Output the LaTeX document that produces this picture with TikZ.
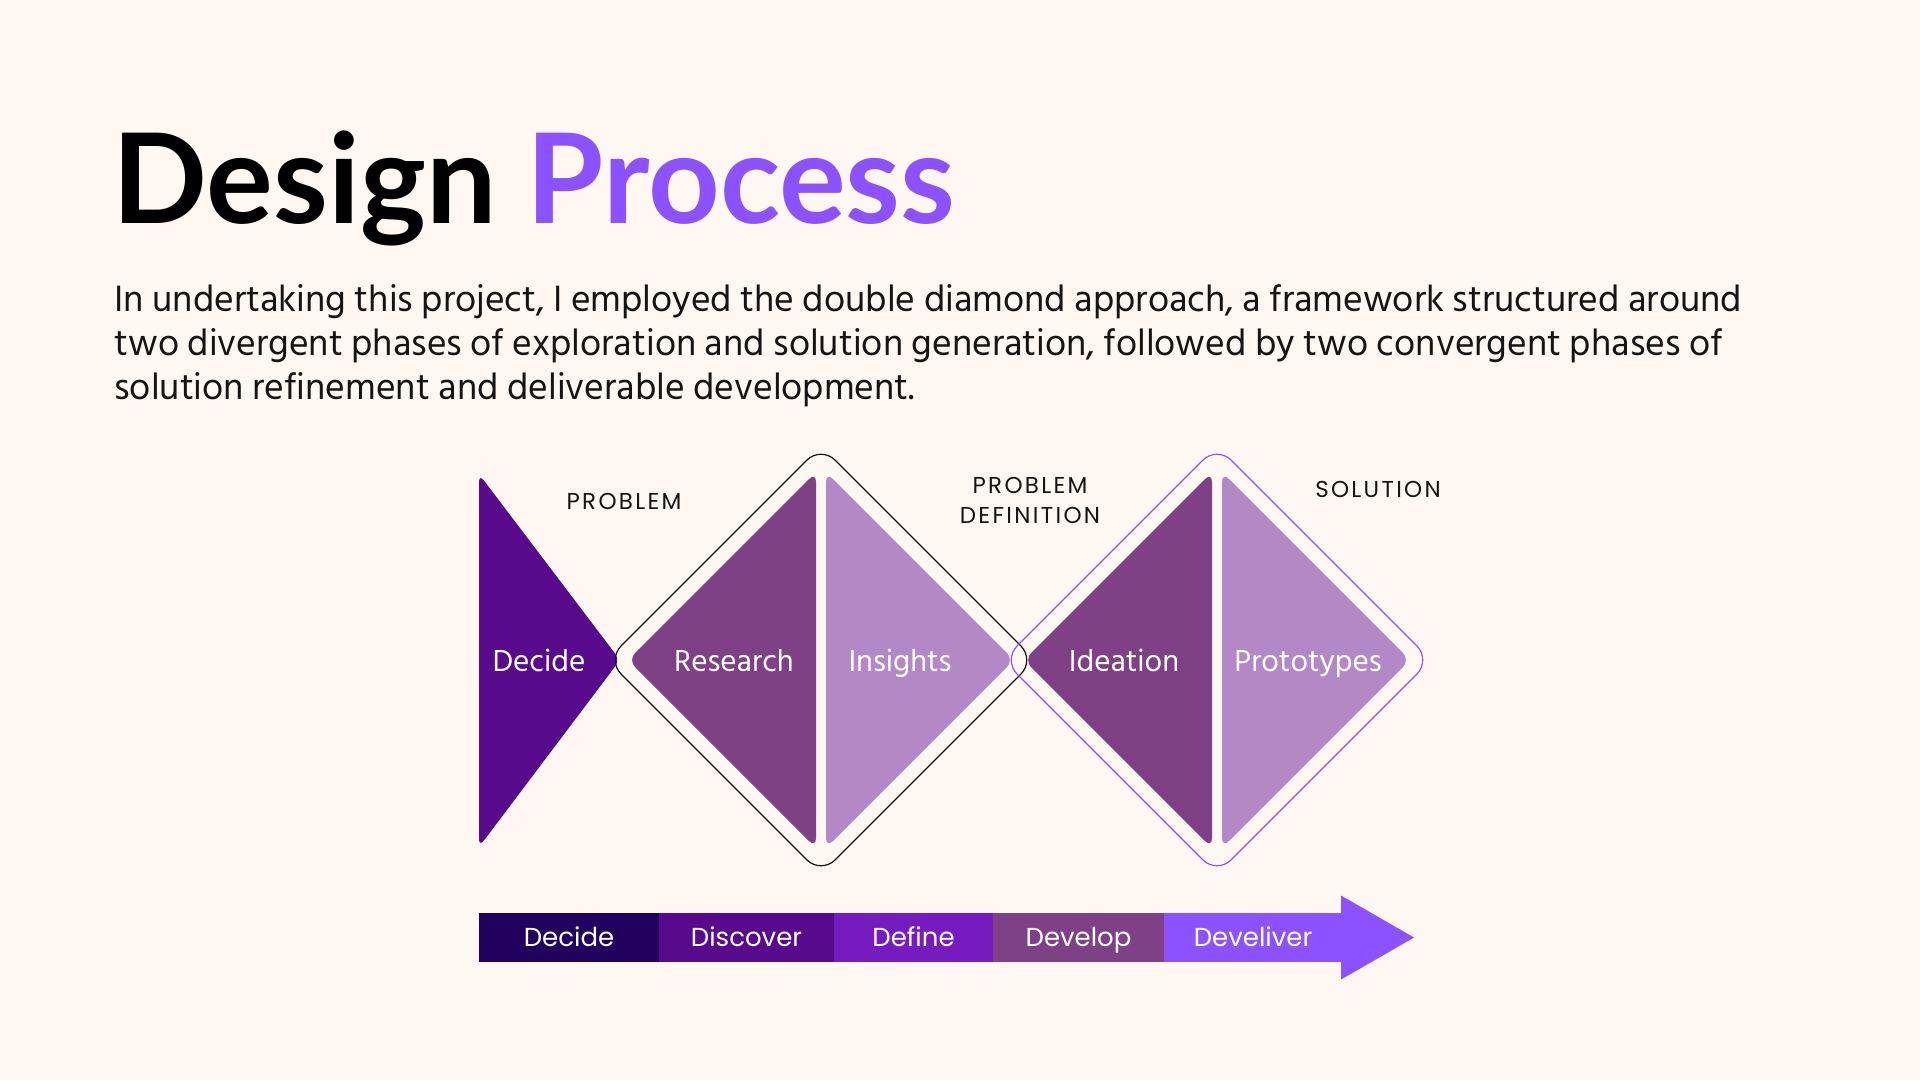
\documentclass[tikz,border=0pt]{standalone}
\usepackage{fontspec}
\setmainfont{Lato}
\newfontfamily\hindfont{Hind Siliguri}
\newfontfamily\popfont{Poppins}
\newfontfamily\popwide{Poppins}[LetterSpace=10]
\usetikzlibrary{positioning}
\definecolor{paper}{HTML}{FFF7F2}
\definecolor{inkblack}{HTML}{141414}
\definecolor{accent}{HTML}{8C52FF}
\definecolor{grape}{HTML}{580A8D}
\definecolor{plum}{HTML}{7E4186}
\definecolor{lilac}{HTML}{B288C6}
\definecolor{nightblue}{HTML}{22005E}
\definecolor{orchid}{HTML}{761BBF}

\begin{document}
\begin{tikzpicture}[x=0.5bp,y=-0.5bp,
  half/.style={rounded corners=5bp},
  outline/.style={rounded corners=10bp,line width=0.6bp},
  phase/.style={anchor=base,inner sep=0pt,text=white,
    font=\hindfont\fontsize{15.6bp}{18bp}\selectfont},
  stage/.style={anchor=base,inner sep=0pt,text=inkblack,
    font=\popwide\fontsize{11.5bp}{15bp}\selectfont},
  bodyline/.style={anchor=base west,inner sep=0pt,text=inkblack,
    font=\hindfont\fontsize{18.8bp}{22bp}\selectfont},
  bar/.style={minimum height=24.5bp,inner sep=0pt,outer sep=0pt,
    text height=11.5bp,text depth=2.5bp,
    text=white,font=\popfont\fontsize{13bp}{16bp}\selectfont}
]
  \fill[paper] (0,0) rectangle (1920,1080);

  \node[anchor=base west,inner sep=0pt,
    font=\bfseries\fontsize{62.5bp}{66bp}\selectfont] (title) at (112,223)
    {Design \textcolor{accent}{Process}};
  \node[bodyline] (para1) at (114,311)
    {In undertaking this project, I employed the double diamond approach, a framework structured around};
  \node[bodyline] (para2) at (114,355)
    {two divergent phases of exploration and solution generation, followed by two convergent phases of};
  \node[bodyline] (para3) at (114,399)
    {solution refinement and deliverable development.};

  \fill[grape,rounded corners=4bp] (479,474) -- (620,660) -- (479,847) -- cycle;
  \fill[plum,half] (628,660) -- (816,472) -- (816,848) -- cycle;
  \fill[lilac,half] (826,472) -- (1014,660) -- (826,848) -- cycle;
  \fill[plum,half] (1024,660) -- (1212,472) -- (1212,848) -- cycle;
  \fill[lilac,half] (1222,472) -- (1410,660) -- (1222,848) -- cycle;
  \draw[outline,draw=inkblack] (821,446) -- (1035,660) -- (821,874)
    -- (607,660) -- cycle;
  \draw[outline,draw=accent] (1217,446) -- (1431,660) -- (1217,874)
    -- (1003,660) -- cycle;

  \node[phase] (pDecide) at (539,671) {Decide};
  \node[phase] (pResearch) at (734,671) {Research};
  \node[phase] (pInsights) at (900,671) {Insights};
  \node[phase] (pIdeation) at (1124,671) {Ideation};
  \node[phase] (pPrototypes) at (1308,671) {Prototypes};

  \node[stage] (sProblem) at (624,509) {PROBLEM};
  \node[stage] (sProblem2) at (1030,493) {PROBLEM};
  \node[stage] (sDefinition) at (1030,523) {DEFINITION};
  \node[stage] (sSolution) at (1378,497) {SOLUTION};

  \node[bar,fill=nightblue,minimum width=90bp,anchor=west] (bDecide)
    at (479,937.5) {Decide};
  \node[bar,fill=grape,minimum width=87.5bp,right=0pt of bDecide]
    (bDiscover) {Discover};
  \node[bar,fill=orchid,minimum width=79.5bp,right=0pt of bDiscover]
    (bDefine) {Define};
  \node[bar,fill=plum,minimum width=85.5bp,right=0pt of bDefine]
    (bDevelop) {Develop};
  \node[bar,fill=accent,minimum width=89bp,right=0pt of bDevelop]
    (bDeliver) {Develiver};
  \fill[accent] ([xshift=-0.5bp,yshift=21bp]bDeliver.east) -- ++(73,42)
    -- ++(-73,42) -- cycle;
\end{tikzpicture}
\end{document}
